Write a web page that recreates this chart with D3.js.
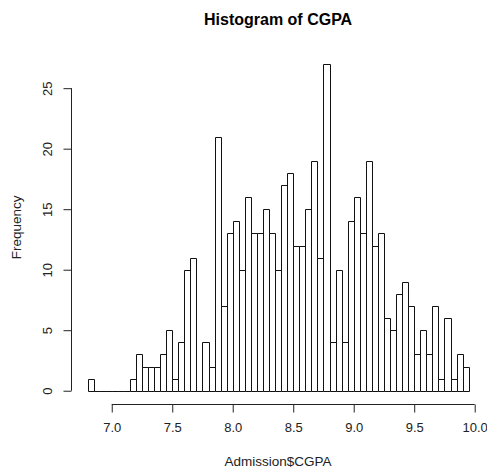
<!DOCTYPE html>
<html>
<head>
<meta charset="utf-8">
<script src="https://cdn.jsdelivr.net/npm/d3@7"></script>
<style>
  body { margin: 0; background: #fff; }
  text { font-family: "Liberation Sans", Arial, sans-serif; }
</style>
</head>
<body>
<script>
// bins of width 0.05 starting at 6.80
var binStart = 6.8;
var binWidth = 0.05;
var counts = [1, 0, 0, 0, 0, 0, 0, 1, 3, 2, 2, 2, 3, 5, 1, 4, 10, 11, 0, 4,
              2, 21, 7, 13, 14, 10, 16, 13, 13, 15, 13, 10, 17, 18, 12, 12, 15, 19, 11, 27,
              4, 10, 4, 14, 16, 13, 19, 12, 13, 6, 5, 8, 9, 7, 3, 5, 3, 7, 1, 6,
              1, 3, 2];
var xTicks = [7.0, 7.5, 8.0, 8.5, 9.0, 9.5, 10.0];
var yTicks = [0, 5, 10, 15, 20, 25];

var width = 487, height = 468;

var bins = counts.map(function(c, i) {
  return { x0: binStart + i * binWidth, x1: binStart + (i + 1) * binWidth, n: c };
});

var svg = d3.select("body").append("svg")
  .attr("width", width)
  .attr("height", height);

// R style 4% extension of the data range
var xmin = binStart, xmax = binStart + counts.length * binWidth;
var xpad = (xmax - xmin) * 0.04;
var ymax = d3.max(counts), ypad = ymax * 0.04;

var x = d3.scaleLinear().domain([xmin - xpad, xmax + xpad]).range([72.3, 483.9]);
var y = d3.scaleLinear().domain([-ypad, ymax + ypad]).range([403.8, 50.9]);

// bars as closed paths so that empty bins still show as a flat line
svg.append("g")
  .selectAll("path")
  .data(bins)
  .enter()
  .append("path")
  .attr("d", function(d) {
    var l = Math.round(x(d.x0)) + 0.5, r = Math.round(x(d.x1)) + 0.5;
    var b = Math.round(y(0)) + 0.5, t = Math.round(y(d.n)) + 0.5;
    return "M" + l + "," + b + "V" + t + "H" + r + "V" + b + "Z";
  })
  .attr("fill", "#fff")
  .attr("stroke", "#111")
  .attr("stroke-width", 1);

// x axis
var xAxis = svg.append("g")
  .attr("transform", "translate(0," + (Math.round(y.range()[0]) + 0.5) + ")")
  .call(d3.axisBottom(x).tickValues(xTicks).tickSize(8).tickSizeOuter(0).tickFormat(d3.format(".1f")));
xAxis.select(".domain").remove();
xAxis.append("line")
  .attr("x1", x(xTicks[0])).attr("x2", x(xTicks[xTicks.length - 1]))
  .attr("stroke", "#222");
xAxis.selectAll(".tick line").attr("stroke", "#222");
xAxis.selectAll(".tick text")
  .attr("y", 18)
  .attr("dy", "0.71em")
  .attr("fill", "#222")
  .style("font-size", "13px")
  .style("font-family", "Liberation Sans, Arial, sans-serif");

// y axis
var yAxis = svg.append("g")
  .attr("transform", "translate(" + (Math.round(x.range()[0]) - 0.5) + ",0)")
  .call(d3.axisLeft(y).tickValues(yTicks).tickSize(8).tickSizeOuter(0));
yAxis.select(".domain").remove();
yAxis.append("line")
  .attr("y1", y(yTicks[0])).attr("y2", y(yTicks[yTicks.length - 1]))
  .attr("stroke", "#222");
yAxis.selectAll(".tick line").attr("stroke", "#222");
yAxis.selectAll(".tick text")
  .attr("x", null).attr("dy", null)
  .attr("text-anchor", "middle")
  .attr("transform", "translate(-19.5,0) rotate(-90)")
  .attr("fill", "#222")
  .style("font-size", "13px")
  .style("font-family", "Liberation Sans, Arial, sans-serif");

// titles
var cx = (x.range()[0] + x.range()[1]) / 2;
svg.append("text")
  .attr("x", cx).attr("y", 25)
  .attr("text-anchor", "middle")
  .style("font-size", "16px")
  .style("font-weight", "bold")
  .text("Histogram of CGPA");

svg.append("text")
  .attr("x", cx).attr("y", 466)
  .attr("text-anchor", "middle")
  .attr("fill", "#222")
  .style("font-size", "13.5px")
  .text("Admission$CGPA");

svg.append("text")
  .attr("transform", "translate(21," + ((y.range()[0] + y.range()[1]) / 2) + ") rotate(-90)")
  .attr("text-anchor", "middle")
  .attr("fill", "#222")
  .style("font-size", "13.5px")
  .text("Frequency");
</script>
</body>
</html>
